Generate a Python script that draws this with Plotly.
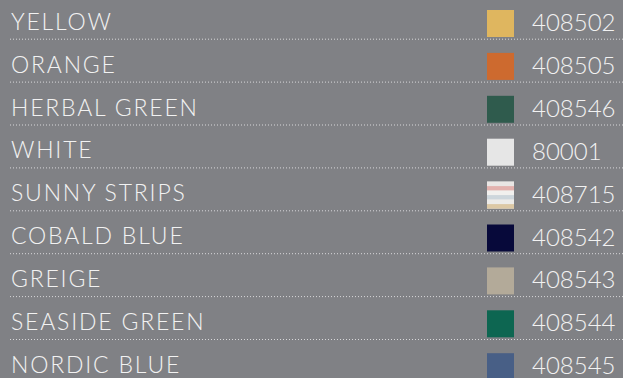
import plotly.graph_objects as go

# ---- data ----
names = ["YELLOW", "ORANGE", "HERBAL GREEN", "WHITE", "SUNNY STRIPS",
         "COBALD BLUE", "GREIGE", "SEASIDE GREEN", "NORDIC BLUE"]
codes = ["408502", "408505", "408546", "80001", "408715",
         "408542", "408543", "408544", "408545"]
swatch_colors = ["#dfb65f", "#cd6a2f", "#2f5b4d", "#e6e6e6", "#ececec",
                 "#07093a", "#b3aa99", "#0d6651", "#485f86"]
stripe_colors = ["#e9e6e4", "#e3b2ae", "#f1f0ee", "#cdd6dc", "#ecebe8", "#dcc8a4"]

W, H = 623, 378
BG = "#808185"
ROW0, STEP = 22.5, 42.9
n = len(names)
rows = [ROW0 + STEP * i for i in range(n)]

fig = go.Figure()

# dotted separators
for i in range(n - 1):
    yl = rows[i] + 16.7
    fig.add_trace(go.Scatter(x=[10, W], y=[yl, yl], mode="lines",
                             line=dict(color="#d8d8da", width=1, dash="1px,2px"),
                             hoverinfo="skip", showlegend=False))

# labels
fig.add_trace(go.Scatter(x=[11] * n, y=[r + 1.5 for r in rows], mode="text", text=names,
                         textposition="middle right",
                         textfont=dict(family="Lato", size=23, color="#f2f2f2", weight=300),
                         hoverinfo="skip", showlegend=False))

# codes
fig.add_trace(go.Scatter(x=[532] * n, y=[r + 2.5 for r in rows], mode="text", text=codes,
                         textposition="middle right",
                         textfont=dict(family="Lato", size=24, color="#f2f2f2", weight=300),
                         hoverinfo="skip", showlegend=False))

# swatches
fig.add_trace(go.Scatter(x=[500.5] * n, y=[r + 1 for r in rows], mode="markers",
                         marker=dict(symbol="square", size=27, color=swatch_colors,
                                     line=dict(width=0)),
                         hoverinfo="skip", showlegend=False))

# stripes for SUNNY STRIPS swatch
si = names.index("SUNNY STRIPS")
top = rows[si] + 1 - 13.5
sh = 27 / len(stripe_colors)
shapes = []
for k, c in enumerate(stripe_colors):
    shapes.append(dict(type="rect", xref="x", yref="y",
                       x0=487, x1=514, y0=top + k * sh, y1=top + (k + 1) * sh,
                       fillcolor=c, line=dict(width=0), layer="above"))

fig.update_layout(
    width=W, height=H,
    margin=dict(l=0, r=0, t=0, b=0),
    paper_bgcolor=BG, plot_bgcolor=BG,
    xaxis=dict(range=[0, W], visible=False, fixedrange=True),
    yaxis=dict(range=[H, 0], visible=False, fixedrange=True),
    shapes=shapes,
    showlegend=False,
)

post = (
    "document.body.style.margin='0';"
    "document.body.style.background='#808185';"
    "document.querySelectorAll('.textpoint text').forEach(function(t){"
    "if(/[A-Z]/.test(t.textContent)){t.style.letterSpacing='1.8px';}});"
)

fig.write_html("out.html", config={"displayModeBar": False}, post_script=post)
